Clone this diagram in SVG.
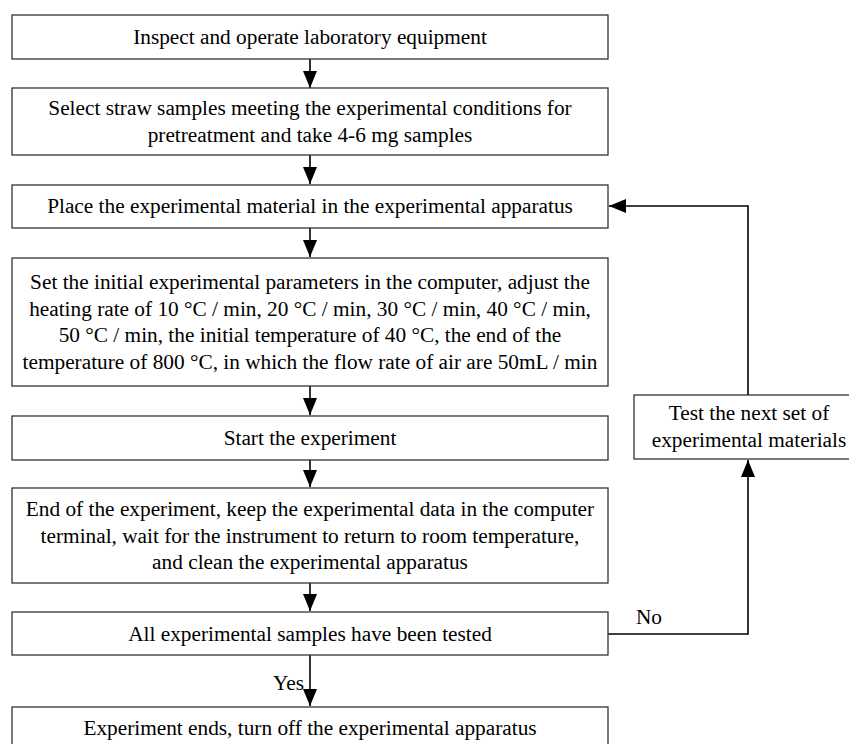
<svg xmlns="http://www.w3.org/2000/svg" width="849" height="744" viewBox="0 0 849 744">
<style>
.box{fill:#fff;stroke:#333;stroke-width:1.3}
.t{font-family:"Liberation Serif","Tinos","Times New Roman",serif;font-size:21.3px;fill:#000;text-anchor:middle;dominant-baseline:central}
.c{fill:none;stroke:#000;stroke-width:1.6}
</style>
<defs>
<marker id="ah" markerUnits="userSpaceOnUse" markerWidth="17" markerHeight="14" refX="17" refY="7" orient="auto">
<path d="M0,0 L17,7 L0,14 z" fill="#000"/>
</marker>
</defs>
<rect width="849" height="744" fill="#fff"/>
<g id="connectors">
<line class="c" x1="310" y1="59" x2="310" y2="88" marker-end="url(#ah)"/>
<line class="c" x1="310" y1="155" x2="310" y2="184" marker-end="url(#ah)"/>
<line class="c" x1="310" y1="228" x2="310" y2="257" marker-end="url(#ah)"/>
<line class="c" x1="310" y1="386" x2="310" y2="415" marker-end="url(#ah)"/>
<line class="c" x1="310" y1="460" x2="310" y2="487" marker-end="url(#ah)"/>
<line class="c" x1="310" y1="583" x2="310" y2="611" marker-end="url(#ah)"/>
<line class="c" x1="310" y1="655" x2="310" y2="706" marker-end="url(#ah)"/>
<polyline class="c" points="608,634 748,634 748,460" marker-end="url(#ah)"/>
<polyline class="c" points="748,395 748,206 609,206" marker-end="url(#ah)"/>
<text class="t" x="649" y="617">No</text>
<text class="t" x="304" y="683" style="text-anchor:end">Yes</text>
</g>
<g id="n1"><rect class="box" x="12" y="15" width="596" height="44"/><text class="t" x="310" y="37">Inspect and operate laboratory equipment</text></g>
<g id="n2"><rect class="box" x="12" y="88" width="596" height="67"/><text class="t" x="310" y="108">Select straw samples meeting the experimental conditions for</text><text class="t" x="310" y="135">pretreatment and take 4-6 mg samples</text></g>
<g id="n3"><rect class="box" x="12" y="185" width="596" height="43"/><text class="t" x="310" y="206">Place the experimental material in the experimental apparatus</text></g>
<g id="n4"><rect class="box" x="12" y="258" width="596" height="128"/><text class="t" x="310" y="282">Set the initial experimental parameters in the computer, adjust the</text><text class="t" x="310" y="309">heating rate of 10 °C / min, 20 °C / min, 30 °C / min, 40 °C / min,</text><text class="t" x="310" y="335">50 °C / min, the initial temperature of 40 °C, the end of the</text><text class="t" x="310" y="362">temperature of 800 °C, in which the flow rate of air are 50mL / min</text></g>
<g id="n5"><rect class="box" x="12" y="416" width="596" height="44"/><text class="t" x="310" y="438">Start the experiment</text></g>
<g id="n6"><rect class="box" x="12" y="488" width="596" height="95"/><text class="t" x="310" y="509">End of the experiment, keep the experimental data in the computer</text><text class="t" x="310" y="536">terminal, wait for the instrument to return to room temperature,</text><text class="t" x="310" y="562">and clean the experimental apparatus</text></g>
<g id="n7"><rect class="box" x="12" y="612" width="596" height="43"/><text class="t" x="310" y="634">All experimental samples have been tested</text></g>
<g id="n8"><rect class="box" x="12" y="707" width="596" height="44"/><text class="t" x="310" y="728">Experiment ends, turn off the experimental apparatus</text></g>
<g id="n9"><rect class="box" x="634" y="395" width="232" height="64"/><text class="t" x="749" y="413">Test the next set of</text><text class="t" x="749" y="440">experimental materials</text></g>
</svg>
